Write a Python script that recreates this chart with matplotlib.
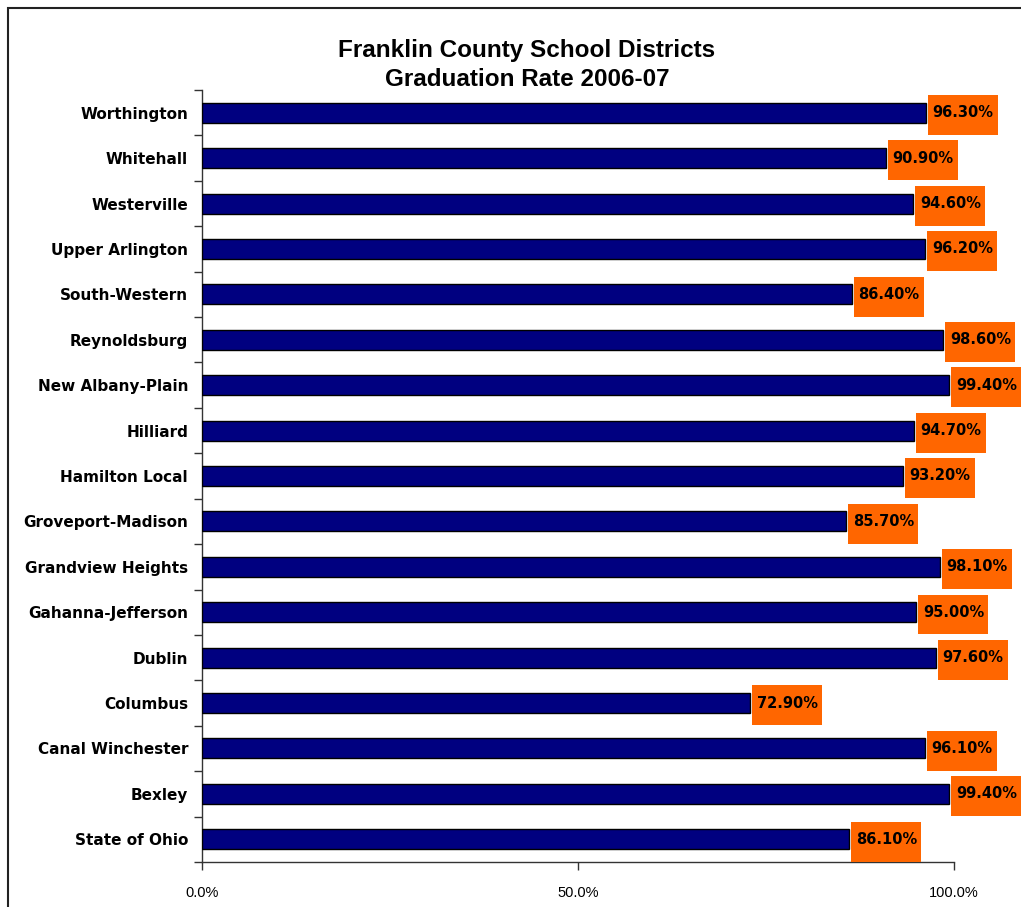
import numpy as np
import matplotlib.pyplot as plt
from matplotlib.patches import Rectangle
from matplotlib.ticker import FixedLocator

# data, top to bottom as shown
districts = [
    "Worthington", "Whitehall", "Westerville", "Upper Arlington",
    "South-Western", "Reynoldsburg", "New Albany-Plain", "Hilliard",
    "Hamilton Local", "Groveport-Madison", "Grandview Heights",
    "Gahanna-Jefferson", "Dublin", "Columbus", "Canal Winchester",
    "Bexley", "State of Ohio",
]
grad_rate = [
    96.3, 90.9, 94.6, 96.2, 86.4, 98.6, 99.4, 94.7, 93.2, 85.7,
    98.1, 95.0, 97.6, 72.9, 96.1, 99.4, 86.1,
]
x_ticks = [0.0, 0.5, 1.0]
x_tick_labels = ["0.0%", "50.0%", "100.0%"]

W, H = 1021, 907
fig = plt.figure(figsize=(W / 100, H / 100), dpi=100)
fig.patch.set_facecolor("white")

ax = fig.add_axes([202 / W, 1 - 862 / H, (954 - 202) / W, (862 - 90) / H])

n = len(districts)
y = np.arange(n)[::-1]
vals = np.array(grad_rate) / 100.0

ax.barh(y, vals, height=0.44, color="#000080", edgecolor="black", linewidth=1.0, zorder=3)

# orange label boxes to the right of each bar
box_w = 70 / 752
box_left = vals + 2 / 752
ax.barh(y - 0.05, box_w, left=box_left, height=0.88, color="#FF6600",
        edgecolor="none", zorder=4, clip_on=False)
for yi, left, v in zip(y, box_left, grad_rate):
    ax.text(left + box_w / 2, yi, f"{v:.2f}%", ha="center", va="center",
            fontsize=10.5, fontweight="bold", color="black", zorder=5,
            clip_on=False, family="DejaVu Sans")

ax.set_xlim(0, 1)
ax.set_ylim(-0.5, n - 0.5)

ax.xaxis.set_major_locator(FixedLocator(x_ticks))
ax.set_xticklabels(x_tick_labels, family=["Liberation Sans Narrow", "Liberation Sans"],
                   fontsize=10.5)
ax.tick_params(axis="x", length=6, width=1, pad=11, color="#333333")

ax.set_yticks(y)
ax.set_yticklabels(districts, fontsize=11, fontweight="bold", family="DejaVu Sans")
ax.yaxis.set_minor_locator(FixedLocator(np.arange(-0.5, n, 1.0)))
ax.tick_params(axis="y", which="major", length=0, pad=10)
ax.tick_params(axis="y", which="minor", length=6, width=1, color="#333333")

for side in ["top", "right"]:
    ax.spines[side].set_visible(False)
for side in ["left", "bottom"]:
    ax.spines[side].set_color("#333333")
    ax.spines[side].set_linewidth(1.0)

fig.text(527 / W, 1 - 65 / H, "Franklin County School Districts\nGraduation Rate 2006-07",
         ha="center", va="center", fontsize=17.5, fontweight="bold",
         family="Liberation Sans", linespacing=1.3)

# outer chart frame, cut off at right and bottom
fig.patches.append(Rectangle((8 / W, -0.1), 1.2, 1.1 - 8 / H, transform=fig.transFigure,
                             fill=False, edgecolor="#222222", linewidth=1.5))

fig.savefig("out.png", dpi=100)
